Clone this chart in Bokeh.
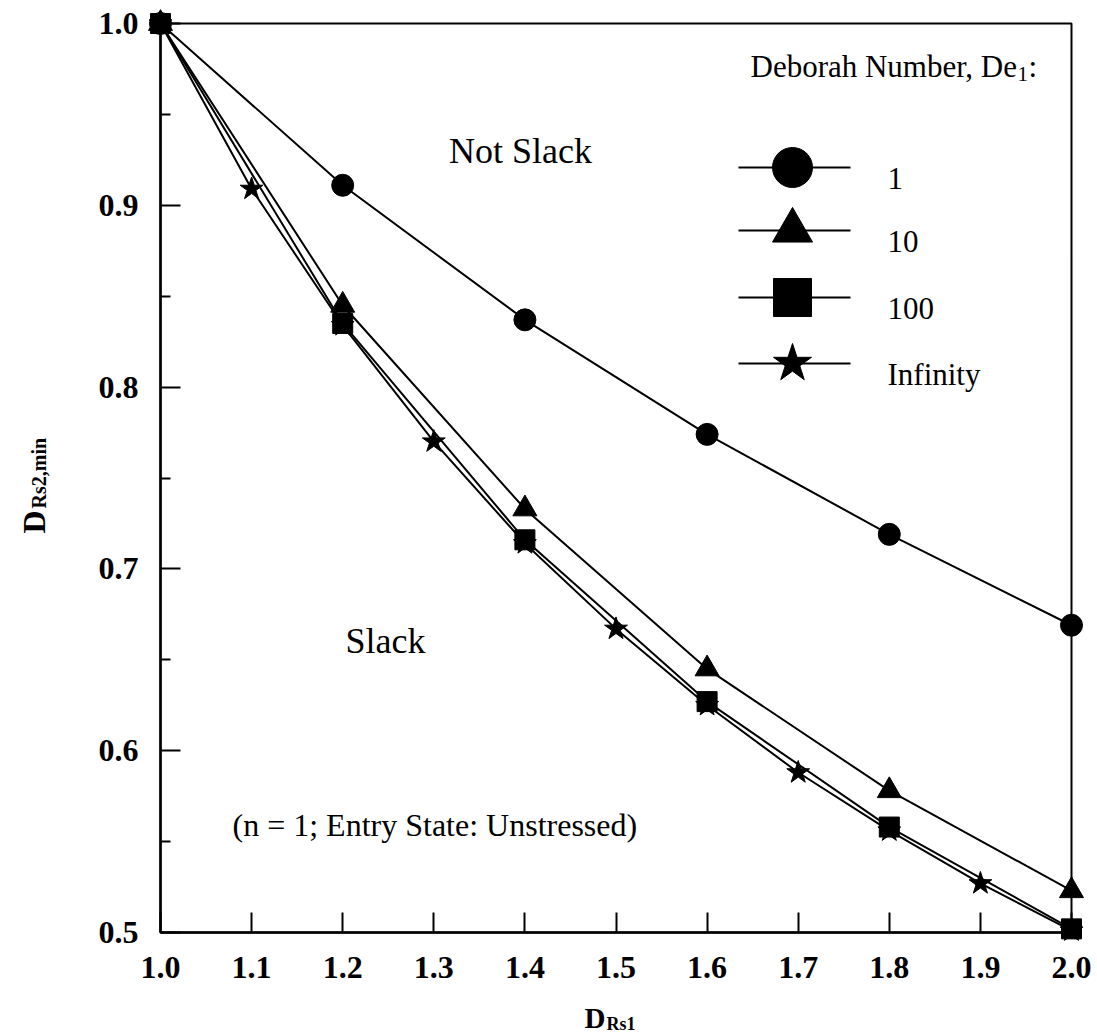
import math
from bokeh.plotting import figure
from bokeh.models import Label, FixedTicker, PrintfTickFormatter, Range1d, BoxAnnotation
from bokeh.embed import file_html
from bokeh.resources import INLINE

# Minimum downstream draw ratio D_Rs2,min against upstream draw ratio D_Rs1
de_labels = ["1", "10", "100", "Infinity"]

x_circle = [1.0, 1.2, 1.4, 1.6, 1.8, 2.0]
y_circle = [1.0, 0.911, 0.837, 0.774, 0.719, 0.669]

x_triangle = [1.0, 1.2, 1.4, 1.6, 1.8, 2.0]
y_triangle = [1.0, 0.845, 0.733, 0.645, 0.578, 0.523]

x_square = [1.0, 1.2, 1.4, 1.6, 1.8, 2.0]
y_square = [1.0, 0.835, 0.716, 0.627, 0.558, 0.502]

x_star = [1.0, 1.1, 1.2, 1.3, 1.4, 1.5, 1.6, 1.7, 1.8, 1.9, 2.0]
y_star = [1.0, 0.909, 0.834, 0.770, 0.714, 0.667, 0.625, 0.588, 0.556, 0.527, 0.501]

x_ticks = [1.0, 1.1, 1.2, 1.3, 1.4, 1.5, 1.6, 1.7, 1.8, 1.9, 2.0]
y_ticks = [0.5, 0.6, 0.7, 0.8, 0.9, 1.0]
y_minor = [0.55, 0.65, 0.75, 0.85, 0.95]

X0, X1, Y0, Y1 = 1.0, 2.0, 0.5, 1.0

SERIF = "Liberation Serif"
W, H = 1097, 1032
# pixel box of the data area on the canvas
LEFT, RIGHT, TOP, BOTTOM = 160, 1071, 23, 932


def dx(px):
    return X0 + (px - LEFT) * (X1 - X0) / (RIGHT - LEFT)


def dy(py):
    return Y1 - (py - TOP) * (Y1 - Y0) / (BOTTOM - TOP)


# the frame covers the whole canvas; axes sit at fixed data locations
p = figure(width=W, height=H, x_range=Range1d(dx(0), dx(W)), y_range=Range1d(dy(H), dy(0)),
           output_backend="svg", toolbar_location=None, min_border=0)
p.grid.visible = False
p.outline_line_color = None
p.background_fill_color = "white"
p.border_fill_color = "white"

p.add_layout(BoxAnnotation(left=X0, right=X1, bottom=Y0, top=Y1, fill_color=None,
                           fill_alpha=0, line_color="black", line_alpha=1.0, line_width=2))

p.xaxis.ticker = FixedTicker(ticks=x_ticks)
p.yaxis.ticker = FixedTicker(ticks=y_ticks, minor_ticks=y_minor)
p.xaxis.fixed_location = Y0
p.yaxis.fixed_location = X0
p.xaxis.bounds = (X0, X1)
p.yaxis.bounds = (Y0, Y1)
for ax in (p.xaxis, p.yaxis):
    ax.formatter = PrintfTickFormatter(format="%.1f")
    ax.axis_line_width = 2.5
    ax.axis_line_color = "black"
    ax.major_tick_in = 20
    ax.major_tick_out = 0
    ax.major_tick_line_width = 2
    ax.minor_tick_in = 10
    ax.minor_tick_out = 0
    ax.minor_tick_line_width = 2
    ax.major_label_text_font = SERIF
    ax.major_label_text_font_size = "32px"
    ax.major_label_text_font_style = "bold"
    ax.major_label_text_color = "black"
p.xaxis.minor_tick_line_color = None
p.xaxis.major_label_standoff = 24
p.yaxis.major_label_standoff = 22

LW = 2
p.line(x_circle, y_circle, line_color="black", line_width=LW)
p.line(x_triangle, y_triangle, line_color="black", line_width=LW)
p.line(x_square, y_square, line_color="black", line_width=LW)
p.line(x_star, y_star, line_color="black", line_width=LW)
p.scatter(x_circle, y_circle, marker="circle", size=22, color="black")
p.scatter(x_triangle, y_triangle, marker="triangle", size=24, color="black")
p.scatter(x_square, y_square, marker="square", size=20, color="black")
p.scatter(x_star, y_star, marker="star", size=24, color="black")


def label(text, px, py, size, style="normal", align="left", angle=0.0):
    p.add_layout(Label(x=dx(px), y=dy(py), text=text, text_font=SERIF,
                       text_font_size=f"{size}px", text_font_style=style,
                       text_align=align, text_baseline="alphabetic", angle=angle,
                       text_color="black"))


# legend
label("Deborah Number, De", 750, 66, 31)
label("1", 1017, 73, 21)
label(":", 1028, 66, 31)
rows = [167, 230, 297, 363]
markers = ["circle", "triangle", "square", "star"]
msizes = [40, 40, 38, 40]
for ry, lab, mk, ms in zip(rows, de_labels, markers, msizes):
    p.line([dx(738), dx(850)], [dy(ry), dy(ry)], line_color="black", line_width=LW)
    p.scatter([dx(792)], [dy(ry)], marker=mk, size=ms, color="black")
    label(lab, 887, ry + 11, 31)

# region annotations
label("Not Slack", 520, 150, 36, align="center")
label("Slack", 385, 640, 36, align="center")
label("(n = 1; Entry State: Unstressed)", 232, 824, 32)

# axis titles with subscripts
label("D", 584, 1017, 29, style="bold")
label("Rs1", 606, 1023, 18, style="bold")
label("D", 33, 533, 32, style="bold", angle=math.pi / 2)
label("Rs2,min", 38, 508, 20, style="bold", angle=math.pi / 2)

open("out.html", "w").write(file_html(p, INLINE))
